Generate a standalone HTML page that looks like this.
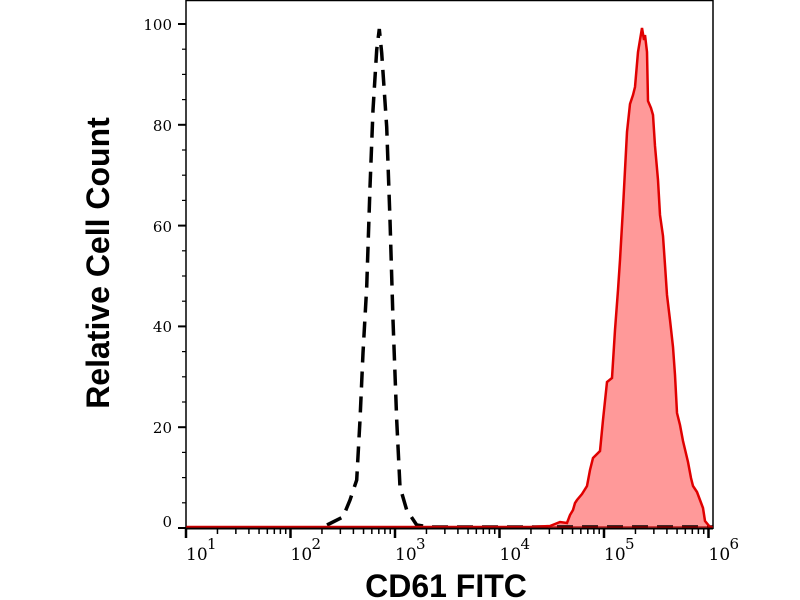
<!DOCTYPE html>
<html><head><meta charset="utf-8"><style>
html,body{margin:0;padding:0;background:#fff;}
svg{display:block;}
</style></head><body>
<svg id="s" width="800" height="600" xmlns="http://www.w3.org/2000/svg">
<rect x="0" y="0" width="800" height="600" fill="#fff"/>
<g id="ticks"></g>
<path d="M186,527 L530,527 L550,526 L560,522 L567,523 L570,515 L573,510 L575,503 L577,500 L582,494 L587,486 L590,470 L593,458 L600,451 L603,420 L607,382 L612,378 L615,330 L618,290 L620,260 L623,208 L625,170 L627,132 L630,104 L633,95 L635,87 L638,52 L640,40 L642,28 L644,40 L645,35 L647,52 L648,101 L651,108 L653,115 L655,146 L658,180 L660,215 L663,236 L665,265 L667,295 L670,320 L673,347 L675,375 L677,413 L680,425 L683,441 L688,462 L691,478 L693,486 L697,492 L700,500 L703,508 L705,521 L710,527 L713,527 Z" fill="#ff9999" stroke="none"/>
<path d="M327,525 L343,517 L350,500 L356.7,480 L360,420 L363,353 L366.7,287 L370,187 L373,110 L376.7,50 L379.3,29 L381.7,53 L386.7,127 L390,220 L393,320 L396.7,420 L400,487 L406.7,510 L416.7,525 L430,527 L713,527" fill="none" stroke="#000" stroke-width="3.5" stroke-dasharray="16,9"/>
<path d="M186,527 L530,527 L550,526 L560,522 L567,523 L570,515 L573,510 L575,503 L577,500 L582,494 L587,486 L590,470 L593,458 L600,451 L603,420 L607,382 L612,378 L615,330 L618,290 L620,260 L623,208 L625,170 L627,132 L630,104 L633,95 L635,87 L638,52 L640,40 L642,28 L644,40 L645,35 L647,52 L648,101 L651,108 L653,115 L655,146 L658,180 L660,215 L663,236 L665,265 L667,295 L670,320 L673,347 L675,375 L677,413 L680,425 L683,441 L688,462 L691,478 L693,486 L697,492 L700,500 L703,508 L705,521 L710,527 L713,527" fill="none" stroke="#e00000" stroke-width="2.5"/>
<line x1="186" y1="0.5" x2="713" y2="0.5" stroke="#000" stroke-width="1.5"/>
<line x1="186" y1="0" x2="186" y2="529" stroke="#000" stroke-width="1.5"/>
<line x1="713" y1="0" x2="713" y2="529" stroke="#000" stroke-width="1.5"/>
<line x1="186" y1="528.5" x2="713" y2="528.5" stroke="#000" stroke-width="2"/>
<line x1="186" y1="527" x2="713" y2="527" stroke="#b00000" stroke-width="1.5" opacity="0.8"/>
<g font-family="'DejaVu Serif','Liberation Serif',serif" font-size="15" fill="#000" text-anchor="end">
<text x="172" y="30">100</text>
<text x="172" y="131">80</text>
<text x="172" y="232">60</text>
<text x="172" y="332">40</text>
<text x="172" y="433">20</text>
<text x="172" y="527">0</text>
</g>
<g id="xl" font-family="'DejaVu Serif','Liberation Serif',serif" fill="#000"></g>
<text transform="translate(109,263) rotate(-90)" text-anchor="middle" font-family="'Liberation Sans',sans-serif" font-weight="bold" font-size="32">Relative Cell Count</text>
<text x="446" y="597" text-anchor="middle" font-family="'Liberation Sans',sans-serif" font-weight="bold" font-size="32">CD61 FITC</text>
</svg>
<script>
var g=document.getElementById('ticks'),out='';
function L(x1,y1,x2,y2,w){out+='<line x1="'+x1+'" y1="'+y1+'" x2="'+x2+'" y2="'+y2+'" stroke="#000" stroke-width="'+w+'"/>';}
var y0=528,py=5.04;
for(var v=0;v<=100;v+=5){var y=y0-v*py;if(v%20==0)L(178,y,186,y,2);else L(182,y,186,y,1.2);}
var x0=186,dec=104.5;
for(var d=0;d<=5;d++){var x=x0+d*dec;L(x,528,x,538,2.5);
 if(d<5)for(var m=2;m<=9;m++){var xm=x0+(d+Math.log10(m))*dec;L(xm,528,xm,534,1.5);}}
g.innerHTML=out;
var xl=document.getElementById('xl'),s='';
for(var d=0;d<=5;d++){var x=x0+d*dec;
 s+='<text x="'+(x)+'" y="560" font-size="17">10</text><text x="'+(x+21)+'" y="549" font-size="15">'+(d+1)+'</text>';}
xl.innerHTML=s;
</script>
</body></html>
